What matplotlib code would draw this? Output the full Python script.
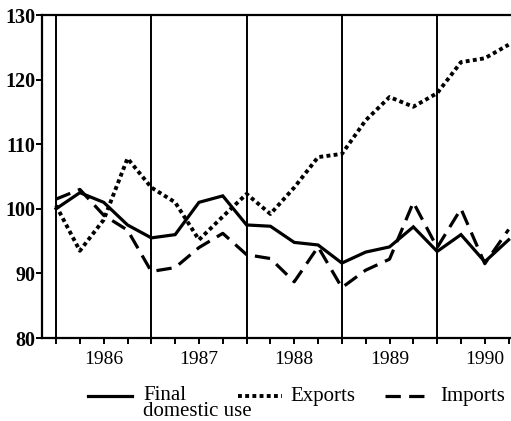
import matplotlib
matplotlib.use("Agg")
import matplotlib.pyplot as plt
from matplotlib.lines import Line2D

# Quarterly index, 1986Q1 .. 1990Q4
quarters = list(range(20))
year_labels = ["1986", "1987", "1988", "1989", "1990"]
year_starts = [0, 4, 8, 12, 16]
label_positions = [2, 6, 10, 14, 18]

final_domestic_use = [100.0, 102.5, 101.0, 97.5, 95.5, 96.0, 101.0, 102.0,
                      97.5, 97.3, 94.8, 94.4, 91.6, 93.3, 94.1, 97.2,
                      93.4, 96.0, 91.8, 95.2]
exports = [100.5, 93.5, 98.3, 107.8, 103.3, 101.0, 95.2, 98.8,
           102.3, 99.2, 103.3, 108.0, 108.5, 113.7, 117.3, 115.8,
           117.9, 122.7, 123.3, 125.4]
imports = [101.5, 103.0, 99.0, 96.7, 90.3, 90.9, 94.0, 96.2,
           92.9, 92.3, 88.7, 94.1, 87.8, 90.5, 92.2, 101.0,
           94.0, 100.0, 91.5, 96.8]

yticks = [80, 90, 100, 110, 120, 130]

plt.rcParams['font.family'] = ['Liberation Serif', 'DejaVu Serif']

W, H = 511, 421
fig = plt.figure(figsize=(W / 100, H / 100), dpi=100)
ax = fig.add_axes([42 / W, 1 - 338 / H, (W - 42) / W, (338 - 15) / H])

lw = 2.3
dot_style = (0, (1.0, 0.85))
dash_style = (0, (4.8, 2.6))
ax.plot(quarters, final_domestic_use, color='black', lw=lw, solid_joinstyle='miter')
ax.plot(quarters, exports, color='black', lw=2.8, linestyle=dot_style,
        dash_capstyle='butt')
ax.plot(quarters, imports, color='black', lw=lw, linestyle=dash_style,
        dash_capstyle='butt')

for xs in year_starts:
    ax.axvline(xs, color='black', lw=1.4, zorder=1)

ax.set_xlim(-0.59, 19.1)
ax.set_ylim(80, 130)

ax.spines['right'].set_visible(False)
for s in ['left', 'top', 'bottom']:
    ax.spines[s].set_linewidth(1.6)

ax.set_yticks(yticks)
ax.set_yticklabels([str(v) for v in yticks], fontsize=14.5, fontweight='bold')
ax.tick_params(axis='y', direction='out', length=4, width=1.4, pad=1)

ax.set_xticks(quarters)
xl = []
for q in quarters:
    xl.append(year_labels[label_positions.index(q)] if q in label_positions else '')
ax.set_xticklabels(xl, fontsize=14)
ax.tick_params(axis='x', direction='out', length=4, width=1.4, pad=5)

# Legend (drawn manually in figure coordinates)
def fx(px):
    return px / W

def fy(py):
    return 1 - py / H

ly = 396
fig.add_artist(Line2D([fx(88), fx(132)], [fy(ly), fy(ly)], color='black', lw=lw,
                      transform=fig.transFigure))
fig.add_artist(Line2D([fx(238), fx(282)], [fy(ly), fy(ly)], color='black', lw=2.8,
                      linestyle=dot_style, dash_capstyle='butt',
                      transform=fig.transFigure))
fig.add_artist(Line2D([fx(385), fx(428)], [fy(ly), fy(ly)], color='black', lw=lw,
                      linestyle=dash_style, dash_capstyle='butt',
                      transform=fig.transFigure))
fs = 15
fig.text(fx(143), fy(386), "Final\ndomestic use", fontsize=fs, va='top',
         ha='left', linespacing=0.75, transform=fig.transFigure)
fig.text(fx(290), fy(401), "Exports", fontsize=fs, va='baseline', ha='left',
         transform=fig.transFigure)
fig.text(fx(440), fy(401), "Imports", fontsize=fs, va='baseline', ha='left',
         transform=fig.transFigure)

fig.savefig("out.png", dpi=100)
